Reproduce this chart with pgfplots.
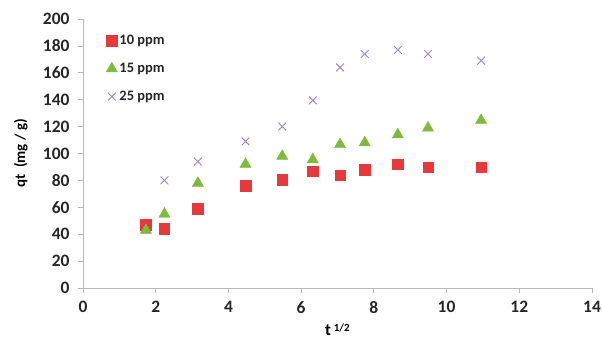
\documentclass[border=0pt]{standalone}
\usepackage{pgfplots}
\pgfplotsset{compat=1.18}
\usepackage{fontspec}
\setmainfont{Carlito}
\definecolor{cred}{RGB}{229,57,60}
\definecolor{cgreen}{RGB}{128,186,60}
\definecolor{cpurple}{RGB}{160,130,200}
\definecolor{axgray}{RGB}{185,185,185}
\newcommand{\tkfont}{\fontsize{17.5}{19}\selectfont\bfseries}
\begin{document}
\begin{tikzpicture}
\path[use as bounding box] (-83bp,-54bp) rectangle (519bp,288bp);
\begin{axis}[
  scale only axis,
  width=509bp, height=269bp,
  at={(0,0)}, anchor=south west,
  xmin=0, xmax=14, ymin=0, ymax=200,
  xtick={0,2,...,14}, ytick={0,20,...,200},
  axis lines=left,
  axis line style={draw=axgray, line width=0.8pt, -},
  tick style={draw=axgray, line width=0.8pt},
  tick align=outside,
  major tick length=5bp,
  /pgf/number format/assume math mode=true,
  xticklabel={\tkfont\pgfmathprintnumber{\tick}},
  yticklabel={\tkfont\pgfmathprintnumber{\tick}},
  tick label style={text=black!85},
  xticklabel style={yshift=-5bp},
  yticklabel style={xshift=-5bp},
  xlabel={\textbf{t\,\raisebox{0.5ex}{\fontsize{11}{12}\selectfont\bfseries 1/2}}},
  ylabel={\textbf{qt\ \ (mg / g)}},
  xlabel style={font=\fontsize{17}{18}\selectfont, at={(axis description cs:0.5,0)}, anchor=center, yshift=-42bp},
  ylabel style={font=\fontsize{15}{17}\selectfont, at={(axis description cs:-0.122,0.5)}, anchor=center},
  legend style={draw=none, fill=none, at={(axis cs:0.55,191)}, anchor=north west,
     font=\fontsize{14.5}{16}\selectfont\bfseries, row sep=13bp, text=black!85},
  legend cell align=left,
  clip=false,
]
\addplot[only marks, mark=square*, mark size=5.2bp, mark options={draw=cred, fill=cred}] coordinates {
(1.73,47) (2.24,44) (3.16,59) (4.47,76) (5.48,80.5) (6.32,87) (7.07,84) (7.75,88) (8.66,92) (9.49,90) (10.95,90)};
\addlegendentry{10 ppm}
\addplot[only marks, mark=triangle*, mark size=6.5bp, mark options={draw=cgreen, fill=cgreen}] coordinates {
(1.73,43) (2.24,55) (3.16,78) (4.47,92) (5.48,98) (6.32,95.5) (7.07,106.7) (7.75,108) (8.66,114) (9.49,119) (10.95,124.7)};
\addlegendentry{15 ppm}
\addplot[only marks, mark=x, mark size=5.5bp, mark options={draw=cpurple, line width=0.9pt}] coordinates {
(2.24,80) (3.16,94) (4.47,109) (5.48,120) (6.32,139.5) (7.07,164) (7.75,174) (8.66,177) (9.49,174) (10.95,169)};
\addlegendentry{25 ppm}
\end{axis}
\end{tikzpicture}
\end{document}
